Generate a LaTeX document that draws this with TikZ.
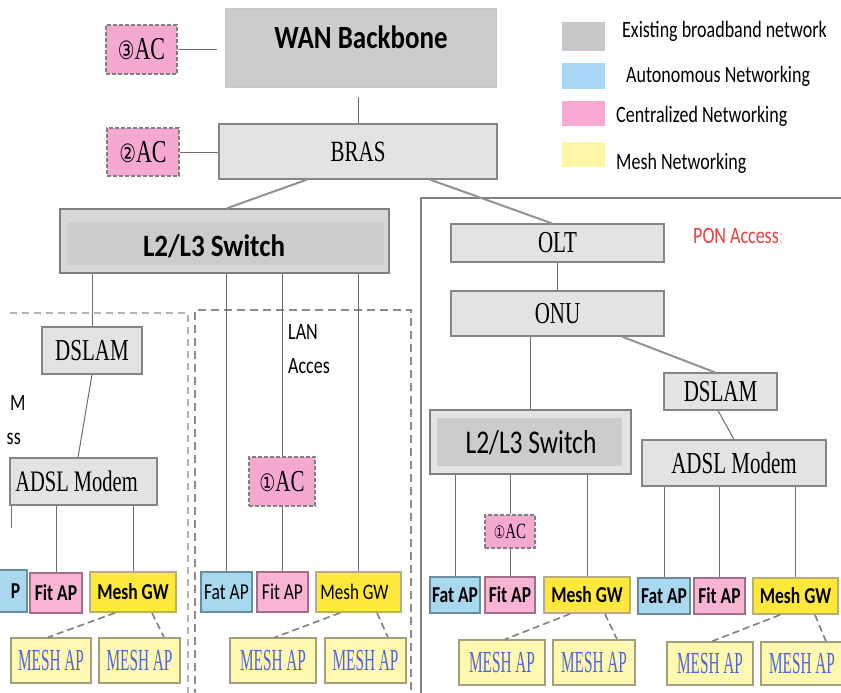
\documentclass[tikz,border=0pt]{standalone}
\usepackage{fontspec}
\usepackage{graphicx}
\setmainfont{Liberation Serif}
\newfontfamily\calfont{Carlito}
\newfontfamily\serfont{Liberation Serif}
\newfontfamily\djvfont{DejaVu Sans}
\newcommand\VS[2]{\scalebox{1}[#1]{#2}}
\newcommand\ACtext[1]{{\djvfont\VS{1.35}{\scalebox{0.85}{#1}}}\VS{1.45}{AC}}
\newcommand\MAP{\scalebox{0.9}[1.8]{MESH AP}}
\definecolor{wangray}{HTML}{CCCCCC}
\definecolor{boxgray}{HTML}{E3E3E3}
\definecolor{edgegray}{HTML}{858585}
\definecolor{acpink}{HTML}{F6A9D0}
\definecolor{fitpink}{HTML}{F8B4D2}
\definecolor{fitedge}{HTML}{A07088}
\definecolor{fatblue}{HTML}{A9D9EE}
\definecolor{fatedge}{HTML}{6A8CA0}
\definecolor{gwyellow}{HTML}{FFE83C}
\definecolor{gwedge}{HTML}{B8AE7C}
\definecolor{apyellow}{HTML}{FFF8B0}
\definecolor{apedge}{HTML}{A0A080}
\definecolor{apblue}{HTML}{5064DC}
\definecolor{linegray}{HTML}{6E6E6E}
\definecolor{ponred}{HTML}{F03C3C}
\definecolor{legblue}{HTML}{AAD6F6}
\definecolor{legpink}{HTML}{F8AAD2}
\definecolor{legyellow}{HTML}{FFF6AA}
\definecolor{leggray}{HTML}{C8C8C8}
\begin{document}
\begin{tikzpicture}[x=1pt,y=-1pt,
  sz/.style 2 args={minimum width=#1, minimum height=#2},
  gbox/.style={rectangle, draw=edgegray, fill=boxgray, line width=1.2pt, inner sep=0pt},
  sertxt/.style={font=\fontsize{21}{21}\serfont},
  acbox/.style={rectangle, draw=gray, fill=acpink, line width=1.8pt, dash pattern=on 4pt off 2pt, inner sep=0pt},
  fatbox/.style={rectangle, draw=fatedge, fill=fatblue, line width=1.2pt, inner sep=0pt},
  fitbox/.style={rectangle, draw=fitedge, fill=fitpink, line width=1.2pt, inner sep=0pt},
  gwbox/.style={rectangle, draw=gwedge, fill=gwyellow, line width=1.8pt, inner sep=0pt},
  apbox/.style={rectangle, draw=apedge, fill=apyellow, line width=1.4pt, inner sep=0pt, text=apblue, font=\fontsize{17}{17}\serfont},
  aptxt/.style={font=\fontsize{17.5}{17.5}\calfont\bfseries},
  aptxtr/.style={font=\fontsize{17.5}{17.5}\calfont},
  lineC/.style={draw=linegray, line width=1pt},
  lineT/.style={draw=gray!85, line width=2pt},
  meshdash/.style={draw=gray, line width=1.6pt, dash pattern=on 7pt off 4pt},
  legtxt/.style={anchor=west, inner sep=0pt, font=\fontsize{18}{18}\calfont}
]
\useasboundingbox (0,0) rectangle (841,693);
\fill[white] (0,0) rectangle (841,693);

% region outlines
\draw[draw=gray!60, line width=1.4pt, dash pattern=on 7pt off 5pt] (10,313) -- (188,313) -- (188,697);
\draw[draw=gray!90, line width=2.6pt, dash pattern=on 8pt off 5pt] (195,697) -- (195,310) -- (411,310) -- (411,697);
\draw[draw=gray, line width=1.2pt] (421,697) -- (421,198) -- (845,198);

% legend
\node[fill=leggray, inner sep=0pt, sz={43}{29}] (lg1) at (583.5,36.5) {};
\node[fill=legblue, inner sep=0pt, sz={43}{26}] (lg2) at (583.5,76) {};
\node[fill=legpink, inner sep=0pt, sz={43}{25}] (lg3) at (583.5,113.5) {};
\node[fill=legyellow, inner sep=0pt, sz={43}{25}] (lg4) at (583.5,154.5) {};
\node[legtxt] (lt1) at (622,31) {\VS{1.3}{Existing broadband network}};
\node[legtxt] (lt2) at (626,76) {\VS{1.3}{Autonomous Networking}};
\node[legtxt] (lt3) at (616,116) {\VS{1.3}{Centralized Networking}};
\node[legtxt] (lt4) at (616,163) {\VS{1.3}{Mesh Networking}};

% core
\node[rectangle, fill=wangray, draw=gray!45, line width=1pt, sz={271}{79}] (wan) at (360.5,48.5) {};
\node[font=\fontsize{27}{27}\calfont\bfseries] (wantxt) at (361,37) {\VS{1.2}{WAN Backbone}};
\node[acbox, sz={71}{49}, font=\fontsize{22}{22}\serfont] (ac3) at (141.5,49.5) {\ACtext{③}};
\node[gbox, sz={278}{55}, sertxt] (bras) at (358,151.5) {\VS{1.4}{BRAS}};
\node[acbox, sz={72}{48}, font=\fontsize{22}{22}\serfont] (ac2) at (143,152) {\ACtext{②}};
\coordinate (wanL) at (217,51);
\coordinate (wanB) at (358,97);
\draw[lineC] (ac3.east) -- (ac3.east -| wanL);
\draw[lineC] (wanB) -- (wanB |- bras.north);
\draw[lineC] (ac2.east) -- (ac2.east -| bras.west);

% left switch
\node[gbox, draw=gray, line width=1.5pt, fill=boxgray!95!black, sz={329}{64}] (sw) at (224.5,241) {};
\node[fill=wangray, inner sep=0pt, sz={317}{43}] (swin) at (225.5,243.5) {};
\node[font=\fontsize{27}{27}\calfont\bfseries] (swtxt) at (214,246) {\VS{1.15}{L2/L3 Switch}};
\draw[lineT] ([xshift=-51pt]bras.south) -- ([xshift=2.5pt]sw.north);

% ADSL branch (left)
\node[gbox, sz={100}{47}, sertxt] (dslam1) at (92,350.5) {\VS{1.45}{DSLAM}};
\node[gbox, sz={147}{47}, font=\fontsize{20.5}{20.5}\serfont] (adsl1) at (83.5,481.5) {\hspace*{-14pt}\VS{1.45}{ADSL Modem}};
\node[font=\fontsize{18}{18}\calfont, anchor=west, inner sep=0pt] (tM) at (10,403) {\VS{1.3}{M}};
\node[font=\fontsize{18}{18}\calfont, anchor=east, inner sep=0pt] (tss) at (21,439) {\VS{1.3}{ss}};
\node[fatbox, sz={47}{42}, aptxt] (fatL) at (3.5,591) {\hspace*{24pt}\VS{1.3}{P}};
\node[fitbox, sz={52}{40}, aptxt] (fitL) at (56,593) {\VS{1.3}{Fit AP}};
\node[gwbox, sz={86}{40}, aptxt] (gwL) at (133,592) {\VS{1.3}{Mesh GW}};
\node[apbox, sz={80}{45}] (mapL1) at (51,660.5) {\MAP};
\node[apbox, sz={81}{45}] (mapL2) at (139.5,660.5) {\MAP};
\coordinate (cutA) at (11,528);
\draw[lineC] (sw.south -| dslam1.north) -- (dslam1.north);
\draw[lineC] (dslam1.south) -- ([xshift=-5.5pt]adsl1.north);
\draw[lineC] (adsl1.south -| cutA) -- (cutA);
\draw[lineC] (adsl1.south -| fitL.north) -- (fitL.north);
\draw[lineC] (adsl1.south -| gwL.north) -- (gwL.north);
\draw[meshdash] ([xshift=-18pt]gwL.south) -- ([xshift=-3pt]mapL1.north);
\draw[meshdash] ([xshift=19pt]gwL.south) -- ([xshift=24.5pt]mapL2.north);

% LAN branch (middle)
\node[font=\fontsize{18}{18}\calfont, anchor=west, inner sep=0pt] (tLAN) at (288,332) {\VS{1.3}{LAN}};
\node[font=\fontsize{18}{18}\calfont, anchor=west, inner sep=0pt] (tAcc) at (288,366) {\VS{1.3}{Acces}};
\node[acbox, sz={66}{49}, font=\fontsize{21}{21}\serfont] (ac1) at (282,481.5) {\ACtext{①}};
\node[fatbox, sz={51}{40}, aptxtr] (fatM) at (226.5,592) {\raisebox{-4pt}{\VS{1.3}{Fat AP}}};
\node[fitbox, sz={51}{40}, aptxtr] (fitM) at (282.5,592) {\raisebox{-4pt}{\VS{1.3}{Fit AP}}};
\node[gwbox, sz={85}{40}, font=\fontsize{17}{17}\calfont] (gwM) at (358.5,592) {\raisebox{-4pt}{\VS{1.3}{\hspace*{-8pt}Mesh GW}}};
\node[apbox, sz={86}{45}] (mapM1) at (273,660.5) {\MAP};
\node[apbox, sz={81}{45}] (mapM2) at (365.5,660.5) {\MAP};
\draw[lineC] (sw.south -| fatM.north) -- (fatM.north);
\draw[lineC] (sw.south -| ac1.north) -- (ac1.north);
\draw[lineC] (ac1.south) -- (ac1.south |- fitM.north);
\draw[lineC] (sw.south -| gwM.north) -- (gwM.north);
\draw[meshdash] ([xshift=-18.5pt]gwM.south) -- ([xshift=2pt]mapM1.north);
\draw[meshdash] ([xshift=18.5pt]gwM.south) -- ([xshift=22.5pt]mapM2.north);

% PON branch (right)
\node[anchor=west, inner sep=0pt, font=\fontsize{18}{18}\calfont] (tPON) at (693,237) {\VS{1.3}{\textcolor{ponred}{PON Access}\textcolor{pink!70}{ ;}}};
\node[gbox, sz={213}{38}, sertxt] (olt) at (557.5,243) {\VS{1.45}{OLT}};
\node[gbox, sz={213}{45}, sertxt] (onu) at (557.5,313.5) {\VS{1.45}{ONU}};
\node[gbox, sz={113}{37}, sertxt] (dslam2) at (720.5,391.5) {\VS{1.45}{DSLAM}};
\node[gbox, draw=gray, line width=1.5pt, sz={201}{64}] (sw2) at (530.5,442) {};
\node[fill=wangray, inner sep=0pt, sz={185}{48}] (sw2in) at (529.5,442) {};
\node[font=\fontsize{25.5}{25.5}\calfont] (sw2txt) at (531,443) {\VS{1.3}{L2/L3 Switch}};
\node[gbox, sz={184}{46}, sertxt] (adsl2) at (734,463) {\VS{1.45}{ADSL Modem}};
\node[acbox, sz={50}{33}, font=\fontsize{15}{15}\serfont] (ac1b) at (510,531.5) {\ACtext{①}};
\node[fatbox, sz={50}{36}, aptxt] (fatR1) at (455,595) {\raisebox{-3pt}{\VS{1.3}{Fat AP}}};
\node[fitbox, sz={50}{36}, aptxt] (fitR1) at (510,595) {\VS{1.3}{Fit AP}};
\node[gwbox, sz={86}{36}, aptxt] (gwR1) at (587,595) {\VS{1.3}{Mesh GW}};
\node[fatbox, sz={52}{36}, aptxt] (fatR2) at (664,596) {\raisebox{-3pt}{\VS{1.3}{Fat AP}}};
\node[fitbox, sz={51}{36}, aptxt] (fitR2) at (719.5,596) {\VS{1.3}{Fit AP}};
\node[gwbox, sz={85}{36}, aptxt] (gwR2) at (795.5,596) {\VS{1.3}{Mesh GW}};
\node[apbox, sz={86}{45}] (mapR1) at (502,662.5) {\MAP};
\node[apbox, sz={82}{45}] (mapR2) at (594,662.5) {\MAP};
\node[apbox, sz={86}{43}] (mapR3) at (710,663.5) {\MAP};
\node[apbox, sz={82}{43}] (mapR4) at (802,663.5) {\MAP};

\draw[lineT] ([xshift=72pt]bras.south) -- ([xshift=-5.5pt]olt.north);
\draw[lineC] (olt.south) -- (onu.north);
\draw[lineC] (onu.south -| sw2.north) -- (sw2.north);
\draw[lineT] ([xshift=64.5pt]onu.south) -- ([xshift=-5.5pt]dslam2.north);
\draw[lineC] ([xshift=-2.5pt]dslam2.south) -- (adsl2.north);
\draw[lineC] (sw2.south -| fatR1.north) -- (fatR1.north);
\draw[lineC] (sw2.south -| ac1b.north) -- (ac1b.north);
\draw[lineC] (ac1b.south) -- (ac1b.south |- fitR1.north);
\draw[lineC] (sw2.south -| gwR1.north) -- (gwR1.north);
\draw[lineC] (adsl2.south -| fatR2.north) -- (fatR2.north);
\draw[lineC] (adsl2.south -| fitR2.north) -- (fitR2.north);
\draw[lineC] (adsl2.south -| gwR2.north) -- (gwR2.north);
\draw[meshdash] ([xshift=-17pt]gwR1.south) -- ([xshift=3pt]mapR1.north);
\draw[meshdash] ([xshift=18pt]gwR1.south) -- ([xshift=23pt]mapR2.north);
\draw[meshdash] ([xshift=-15.5pt]gwR2.south) -- ([xshift=2pt]mapR3.north);
\draw[meshdash] ([xshift=19.5pt]gwR2.south) -- ([xshift=24pt]mapR4.north);
\end{tikzpicture}
\end{document}
